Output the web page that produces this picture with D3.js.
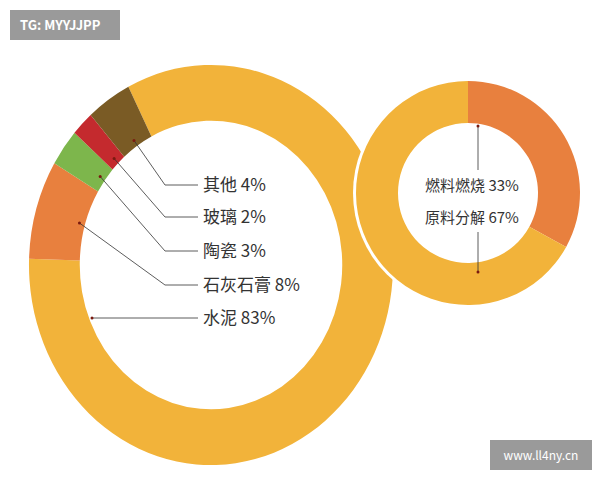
<!DOCTYPE html><html><head><meta charset="utf-8"><script src="https://cdn.jsdelivr.net/npm/d3@7"></script>
<style>body{margin:0;background:#fff}text{font-family:"Noto Sans CJK SC",sans-serif}</style></head><body><svg width="600" height="480"></svg><script>
const bigCats=["水泥","石灰石膏","陶瓷","玻璃","其他"];
const bigVals=[83,8,3,2,4];
const bigColors=["#F2B33A","#E8803E","#7DB64C","#C42A2E","#7A5B25"];
const smallCats=["燃料燃烧","原料分解"];
const smallVals=[33,67];
const smallColors=["#E8803E","#F2B33A"];
const svg=d3.select("svg");
const sa=-27*Math.PI/180;
const bigPie=d3.pie().sort(null).startAngle(sa).endAngle(sa+2*Math.PI);
const bcx=211,bcy=265,bro=190,bri=137,kx=0.958,ky=1.053;
const arcs=bigPie(bigVals);
const g=svg.append("g").attr("transform",`translate(${bcx},${bcy}) scale(${kx},${ky})`);
g.selectAll("path").data(arcs).join("path").attr("d",d3.arc().innerRadius(bri).outerRadius(bro)).attr("fill",(d,i)=>bigColors[i]);
const labelOrder=[4,3,2,1,0];
const ys=[185,217,251,285,318];
labelOrder.forEach((idx,k)=>{
  const y=ys[k];
  let px,py;
  if(idx===0){px=92;py=y;}else{
    const a=(arcs[idx].startAngle+arcs[idx].endAngle)/2,r=bri+6;
    px=bcx+kx*r*Math.sin(a);py=bcy-ky*r*Math.cos(a);}
  const bx=idx===0?px:165;
  svg.append("polyline").attr("points",`${px},${py} ${bx},${y} 198,${y}`).attr("fill","none").attr("stroke","#333").attr("stroke-width",0.8);
  svg.append("circle").attr("cx",px).attr("cy",py).attr("r",1.5).attr("fill","#7a1a10");
  svg.append("text").attr("x",203).attr("y",y+6).attr("font-size",17).attr("fill","#333").text(bigCats[idx]+" "+bigVals[idx]+"%");
});
const scx=468,scy=193,sro=112,sri=70;
const sp=d3.pie().sort(null)(smallVals);
svg.append("circle").attr("cx",scx).attr("cy",scy).attr("r",sro+3).attr("fill","#fff");
const g2=svg.append("g").attr("transform",`translate(${scx},${scy})`);
g2.selectAll("path").data(sp).join("path").attr("d",d3.arc().innerRadius(sri).outerRadius(sro)).attr("fill",(d,i)=>smallColors[i]);
[[126,170],[232,272]].forEach(([a,b])=>{
  svg.append("line").attr("x1",478).attr("x2",478).attr("y1",a).attr("y2",b).attr("stroke","#333").attr("stroke-width",0.8);
});
[126,272].forEach(y=>svg.append("circle").attr("cx",478).attr("cy",y).attr("r",1.5).attr("fill","#7a1a10"));
smallCats.forEach((c,i)=>svg.append("text").attr("x",472).attr("y",[191,223][i]).attr("text-anchor","middle").attr("font-size",15).attr("fill","#333").text(c+" "+smallVals[i]+"%"));
svg.append("rect").attr("x",10).attr("y",10).attr("width",110).attr("height",30).attr("fill","#9a9a9a");
svg.append("text").attr("x",20).attr("y",30).attr("font-size",13).attr("fill","#fff").attr("font-family","Liberation Sans").attr("font-weight","bold").text("TG: MYYJJPP");
svg.append("rect").attr("x",490).attr("y",440).attr("width",102).attr("height",30).attr("fill","#9a9a9a");
svg.append("text").attr("x",541).attr("y",460).attr("text-anchor","middle").attr("font-size",12).attr("fill","#fff").attr("font-family","Liberation Sans").text("www.ll4ny.cn");
</script></body></html>
